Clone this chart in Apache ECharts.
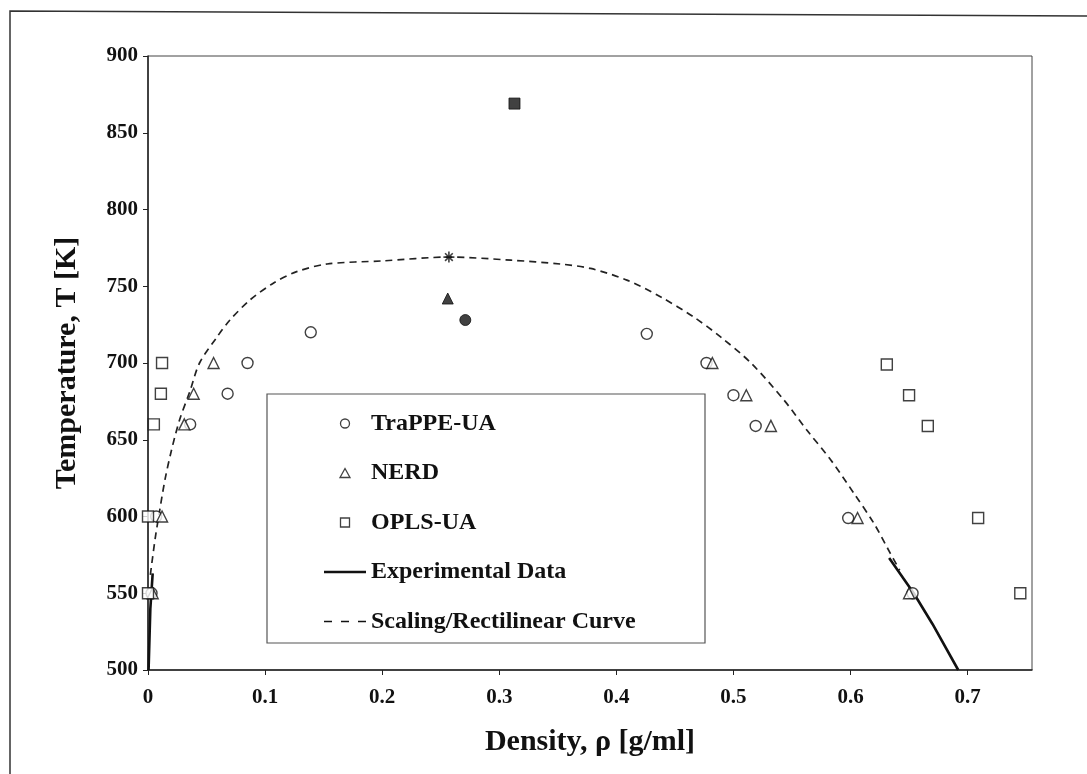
<!DOCTYPE html>
<html>
<head>
<meta charset="utf-8">
<script src="https://cdn.jsdelivr.net/npm/echarts@6/dist/echarts.min.js"></script>
<style>
html,body{margin:0;padding:0;background:#fff;}
#chart{width:1087px;height:774px;}
</style>
</head>
<body>
<div id="chart"></div>
<script>
// ---- data ----
var xTicks = [0, 0.1, 0.2, 0.3, 0.4, 0.5, 0.6, 0.7];
var yTicks = [500, 550, 600, 650, 700, 750, 800, 850, 900];

var trappe = [[0.003,550],[0.007,600],[0.036,660],[0.068,680],[0.085,700],[0.139,720],
              [0.426,719],[0.477,700],[0.500,679],[0.519,659],[0.598,599],[0.653,550]];
var trappeCrit = [0.271, 728];

var nerd = [[0.004,550],[0.012,600],[0.031,660],[0.039,680],[0.056,700],
            [0.482,700],[0.511,679],[0.532,659],[0.606,599],[0.650,550]];
var nerdCrit = [0.256, 742];

var opls = [[0.000,550],[0.000,600],[0.005,660],[0.011,680],[0.012,700],
            [0.631,699],[0.650,679],[0.666,659],[0.709,599],[0.745,550]];
var oplsCrit = [0.313, 869];

var expLeft = [[0.0005,500],[0.002,540],[0.004,563]];
var expRight = [[0.633,573],[0.654,550],[0.670,530],[0.692,500]];

var scaling = [[0.002,562],[0.006,585],[0.010,604],[0.0145,624],[0.020,643],[0.027,663],
               [0.036,682],[0.044,700],[0.059,717],[0.070,728],[0.087,741],[0.107,752],
               [0.127,759.5],[0.153,764.5],[0.200,766.5],[0.257,769],[0.310,767],[0.352,764.5],
               [0.378,761.6],[0.409,754],[0.438,743],[0.466,730],[0.489,717],[0.515,700],
               [0.543,676],[0.563,656],[0.583,637],[0.603,615],[0.620,595.5],[0.634,576],[0.642,565]];
var scalingCrit = [0.257, 769];

var legendNames = ['TraPPE-UA','NERD','OPLS-UA','Experimental Data','Scaling/Rectilinear Curve'];

// ---- chart ----
var FONT = 'Liberation Serif';
var chart = echarts.init(document.getElementById('chart'));
var openStyle = {color:'#fff', borderColor:'#111', borderWidth:1.4};
var filledStyle = {color:'#111', borderColor:'#111', borderWidth:1};
var legOpen = {color:'#fff', borderColor:'#111', borderWidth:1.3};
var legLine = {color:'#111', borderWidth:0};

chart.setOption({
  animation:false,
  backgroundColor:'#fff',
  graphic:[
    {type:'polyline', shape:{points:[[10,774],[10,11],[1087,16]]}, style:{stroke:'#333', lineWidth:1.5, fill:null}},
    {type:'rect', shape:{x:267, y:394, width:438, height:249}, style:{fill:'#fff', stroke:'#555', lineWidth:1.2}, z:5}
  ],
  grid:{left:148, top:56, right:55, bottom:104, show:true, borderColor:'#444', borderWidth:1},
  legend:{
    left:319, top:406, orient:'vertical', z:10,
    itemWidth:42, itemHeight:9, itemGap:24.5, symbolKeepAspect:true,
    data:[
      {name:legendNames[0], icon:'path://M10,5A5,5,0,1,1,0,5A5,5,0,1,1,10,5Z', itemStyle:legOpen},
      {name:legendNames[1], icon:'path://M5,0L10,9L0,9Z', itemStyle:legOpen},
      {name:legendNames[2], icon:'path://M0,0L9,0L9,9L0,9Z', itemStyle:legOpen},
      {name:legendNames[3], icon:'path://M0,0L42,0L42,2.5L0,2.5Z', itemStyle:legLine},
      {name:legendNames[4], icon:'path://M0,0L8,0L8,1.6L0,1.6ZM17,0L25,0L25,1.6L17,1.6ZM34,0L42,0L42,1.6L34,1.6Z', itemStyle:legLine}
    ],
    textStyle:{fontFamily:FONT, fontWeight:'bold', fontSize:24, color:'#111', lineHeight:25}
  },
  xAxis:{
    type:'value', min:0, max:0.755, interval:0.1,
    name:'Density, \u03c1 [g/ml]', nameLocation:'middle', nameGap:57,
    nameTextStyle:{fontFamily:FONT, fontWeight:'bold', fontSize:30, color:'#111'},
    axisLine:{lineStyle:{color:'#222', width:1.5}},
    axisTick:{inside:false, length:5, lineStyle:{color:'#222'}},
    splitLine:{show:false},
    axisLabel:{showMaxLabel:false, margin:17, fontFamily:FONT, fontWeight:'bold', fontSize:21, color:'#111',
      formatter:function(v){ var r = Math.round(v*10)/10; return xTicks.indexOf(r) >= 0 ? String(r) : ''; }}
  },
  yAxis:{
    type:'value', min:yTicks[0], max:yTicks[yTicks.length-1], interval:50,
    name:'Temperature, T [K]', nameLocation:'middle', nameGap:66,
    nameTextStyle:{fontFamily:FONT, fontWeight:'bold', fontSize:30, color:'#111'},
    axisLine:{show:true, lineStyle:{color:'#222', width:1.5}},
    axisTick:{show:true, length:5, lineStyle:{color:'#222'}},
    splitLine:{show:false},
    axisLabel:{margin:10, fontFamily:FONT, fontWeight:'bold', fontSize:21, color:'#111'}
  },
  series:[
    {name:legendNames[4], type:'line', data:scaling, symbol:'none', smooth:0.3,
     itemStyle:{color:'#111'}, lineStyle:{color:'#222', width:1.7, type:[7,5]}, z:2},
    {name:legendNames[3], type:'line', data:expLeft, symbol:'none',
     itemStyle:{color:'#111'}, lineStyle:{color:'#111', width:2.6}, z:3},
    {name:legendNames[3], type:'line', data:expRight, symbol:'none',
     itemStyle:{color:'#111'}, lineStyle:{color:'#111', width:2.6}, z:3},
    {name:legendNames[0], type:'scatter', symbol:'circle', symbolSize:11, data:trappe, itemStyle:openStyle, z:4},
    {name:legendNames[1], type:'scatter', symbol:'triangle', symbolSize:11, data:nerd, itemStyle:openStyle, z:4},
    {name:legendNames[2], type:'scatter', symbol:'rect', symbolSize:11, data:opls, itemStyle:openStyle, z:4},
    {name:'crit-trappe', type:'scatter', symbol:'circle', symbolSize:11, data:[trappeCrit], itemStyle:filledStyle, z:4},
    {name:'crit-nerd', type:'scatter', symbol:'triangle', symbolSize:11, data:[nerdCrit], itemStyle:filledStyle, z:4},
    {name:'crit-opls', type:'scatter', symbol:'rect', symbolSize:11, data:[oplsCrit], itemStyle:filledStyle, z:4},
    {name:'crit-scaling', type:'scatter', symbolSize:11, data:[scalingCrit],
     symbol:'path://M5,0L5,10M0,5L10,5M1.5,1.5L8.5,8.5M1.5,8.5L8.5,1.5',
     itemStyle:{color:'none', borderColor:'#111', borderWidth:1.6}, z:4}
  ]
});
</script>
</body>
</html>
